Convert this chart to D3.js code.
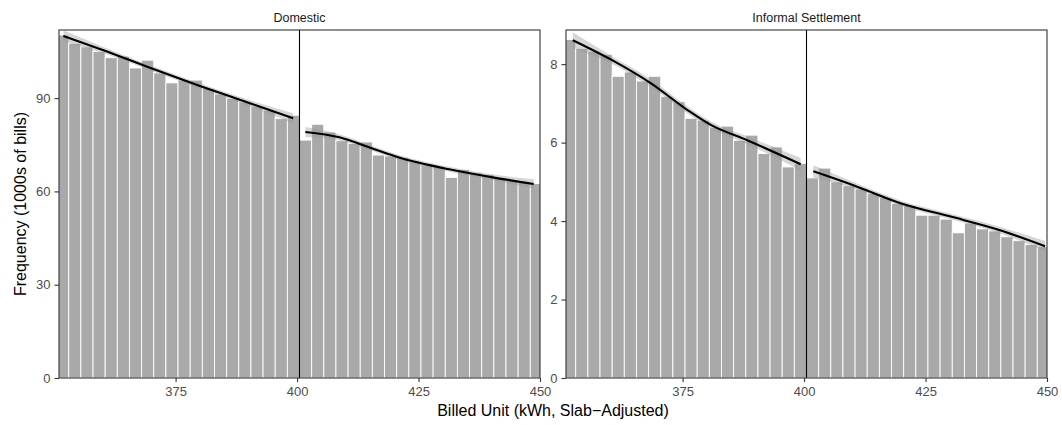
<!DOCTYPE html>
<html>
<head>
<meta charset="utf-8">
<script src="https://cdn.jsdelivr.net/npm/d3@7"></script>
<style>
  body { margin: 0; background: #fff; }
  text { font-family: "Liberation Sans", Arial, sans-serif; }
</style>
</head>
<body>
<script>
// bin left edges (kWh), bin width 2.5
const binStarts = [350.5, 353, 355.5, 358, 360.5, 363, 365.5, 368, 370.5, 373,
  375.5, 378, 380.5, 383, 385.5, 388, 390.5, 393, 395.5, 398,
  400.5, 403, 405.5, 408, 410.5, 413, 415.5, 418, 420.5, 423,
  425.5, 428, 430.5, 433, 435.5, 438, 440.5, 443, 445.5, 448];
const binWidth = 2.5;

const domesticCounts = [110.3, 107.6, 106.5, 105.0, 103.0, 103.5, 99.7, 102.2, 98.1, 94.9,
  95.8, 95.8, 93.1, 91.3, 89.9, 88.8, 87.4, 86.1, 83.4, 84.5,
  76.5, 81.6, 79.1, 76.3, 75.4, 75.9, 71.7, 71.4, 70.9, 69.5,
  68.5, 67.9, 64.5, 67.0, 66.0, 65.5, 64.5, 63.5, 63.0, 62.5];

const informalCounts = [8.63, 8.40, 8.33, 8.25, 7.69, 7.80, 7.57, 7.69, 7.18, 7.04,
  6.62, 6.57, 6.39, 6.42, 6.06, 6.19, 5.72, 5.89, 5.38, 5.47,
  5.10, 5.35, 5.00, 4.90, 4.82, 4.70, 4.60, 4.45, 4.40, 4.15,
  4.15, 4.05, 3.70, 3.95, 3.80, 3.75, 3.60, 3.50, 3.40, 3.35];

// local fits either side of the cutoff: x, fitted value, band half-width
const domLeftX = [351.9, 360, 370, 380, 390, 399.2];
const domLeftY = [110.0, 105.5, 99.6, 93.9, 88.5, 83.5];
const domLeftSe = [1.8, 1.0, 0.8, 0.8, 1.0, 1.6];
const domRightX = [401.7, 408.7, 415.5, 421, 431.3, 440, 448.7];
const domRightY = [79.1, 77.4, 73.8, 70.9, 67.1, 64.6, 62.4];
const domRightSe = [1.6, 1.0, 0.8, 0.8, 0.8, 0.9, 1.5];

const infLeftX = [352.4, 360.2, 368.5, 376.0, 380.8, 388.3, 399.3];
const infLeftY = [8.61, 8.12, 7.51, 6.83, 6.45, 6.06, 5.45];
const infLeftSe = [0.2, 0.1, 0.1, 0.09, 0.09, 0.1, 0.16];
const infRightX = [401.9, 410, 420, 430, 440, 449.6];
const infRightY = [5.27, 4.92, 4.45, 4.12, 3.78, 3.36];
const infRightSe = [0.15, 0.08, 0.07, 0.07, 0.08, 0.13];

const xTicks = [375, 400, 425, 450];
const cutoff = 400.5;

const panels = [
  { title: "Domestic", counts: domesticCounts, yMax: 111.9, yTicks: [0, 30, 60, 90],
    fits: [[domLeftX, domLeftY, domLeftSe], [domRightX, domRightY, domRightSe]], x0: 59, x1: 540 },
  { title: "Informal Settlement", counts: informalCounts, yMax: 8.87, yTicks: [0, 2, 4, 6, 8],
    fits: [[infLeftX, infLeftY, infLeftSe], [infRightX, infRightY, infRightSe]], x0: 566, x1: 1047 }
];

const width = 1062, height = 425;
const plotTop = 30, plotBottom = 378;

const svg = d3.select("body").append("svg")
  .attr("width", width)
  .attr("height", height);

panels.forEach((p, pi) => {
  const x = d3.scaleLinear().domain([351, 450]).range([p.x0, p.x1]);
  const y = d3.scaleLinear().domain([0, p.yMax]).range([plotBottom, plotTop]);

  const clipId = "clip" + pi;
  svg.append("clipPath").attr("id", clipId)
    .append("rect")
    .attr("x", p.x0).attr("y", plotTop)
    .attr("width", p.x1 - p.x0).attr("height", plotBottom - plotTop);

  const g = svg.append("g").attr("clip-path", `url(#${clipId})`);

  // histogram bars
  g.selectAll("rect.bar")
    .data(binStarts.map((b, i) => ({ b, v: p.counts[i] })))
    .enter().append("rect")
    .attr("class", "bar")
    .attr("x", d => x(d.b))
    .attr("width", d => x(d.b + binWidth) - x(d.b))
    .attr("y", d => y(d.v))
    .attr("height", d => y(0) - y(d.v))
    .attr("fill", "#a9a9a9")
    .attr("stroke", "#ffffff")
    .attr("stroke-width", 0.9);

  // fitted lines with bands
  p.fits.forEach(([fx, fy, fse]) => {
    const pts = fx.map((v, i) => ({ x: v, y: fy[i], se: fse[i] }));
    g.append("path")
      .datum(pts)
      .attr("fill", "#999999")
      .attr("fill-opacity", 0.4)
      .attr("d", d3.area()
        .curve(d3.curveMonotoneX)
        .x(d => x(d.x))
        .y0(d => y(d.y - d.se))
        .y1(d => y(d.y + d.se)));
    g.append("path")
      .datum(pts)
      .attr("fill", "none")
      .attr("stroke", "#000")
      .attr("stroke-width", 2.1)
      .attr("d", d3.line()
        .curve(d3.curveMonotoneX)
        .x(d => x(d.x))
        .y(d => y(d.y)));
  });

  // cutoff line
  g.append("line")
    .attr("x1", x(cutoff)).attr("x2", x(cutoff))
    .attr("y1", plotTop).attr("y2", plotBottom)
    .attr("stroke", "#000")
    .attr("stroke-width", 1.1);

  // panel border
  svg.append("rect")
    .attr("x", p.x0).attr("y", plotTop)
    .attr("width", p.x1 - p.x0).attr("height", plotBottom - plotTop)
    .attr("fill", "none")
    .attr("stroke", "#333333")
    .attr("stroke-width", 1.1);

  // axes
  const xAxis = svg.append("g")
    .attr("transform", `translate(0,${plotBottom})`)
    .call(d3.axisBottom(x).tickValues(xTicks).tickSize(4).tickPadding(5));
  const yAxis = svg.append("g")
    .attr("transform", `translate(${p.x0},0)`)
    .call(d3.axisLeft(y).tickValues(p.yTicks).tickSize(4.5).tickPadding(4));
  [xAxis, yAxis].forEach(a => {
    a.select(".domain").remove();
    a.selectAll(".tick line").attr("stroke", "#333333").attr("stroke-width", 1.1);
    a.selectAll(".tick text")
      .attr("fill", "#4d4d4d")
      .style("font-size", "13px")
      .style("font-family", "'Liberation Sans', Arial, sans-serif");
  });

  // strip title
  svg.append("text")
    .attr("x", (p.x0 + p.x1) / 2)
    .attr("y", 21.5)
    .attr("text-anchor", "middle")
    .attr("fill", "#1a1a1a")
    .style("font-size", "12.5px")
    .text(p.title);
});

// axis titles
svg.append("text")
  .attr("x", 553)
  .attr("y", 416)
  .attr("text-anchor", "middle")
  .style("font-size", "16px")
  .text("Billed Unit (kWh, Slab\u2212Adjusted)");

svg.append("text")
  .attr("transform", "translate(25.5,204) rotate(-90)")
  .attr("text-anchor", "middle")
  .style("font-size", "16px")
  .text("Frequency (1000s of bills)");
</script>
</body>
</html>
